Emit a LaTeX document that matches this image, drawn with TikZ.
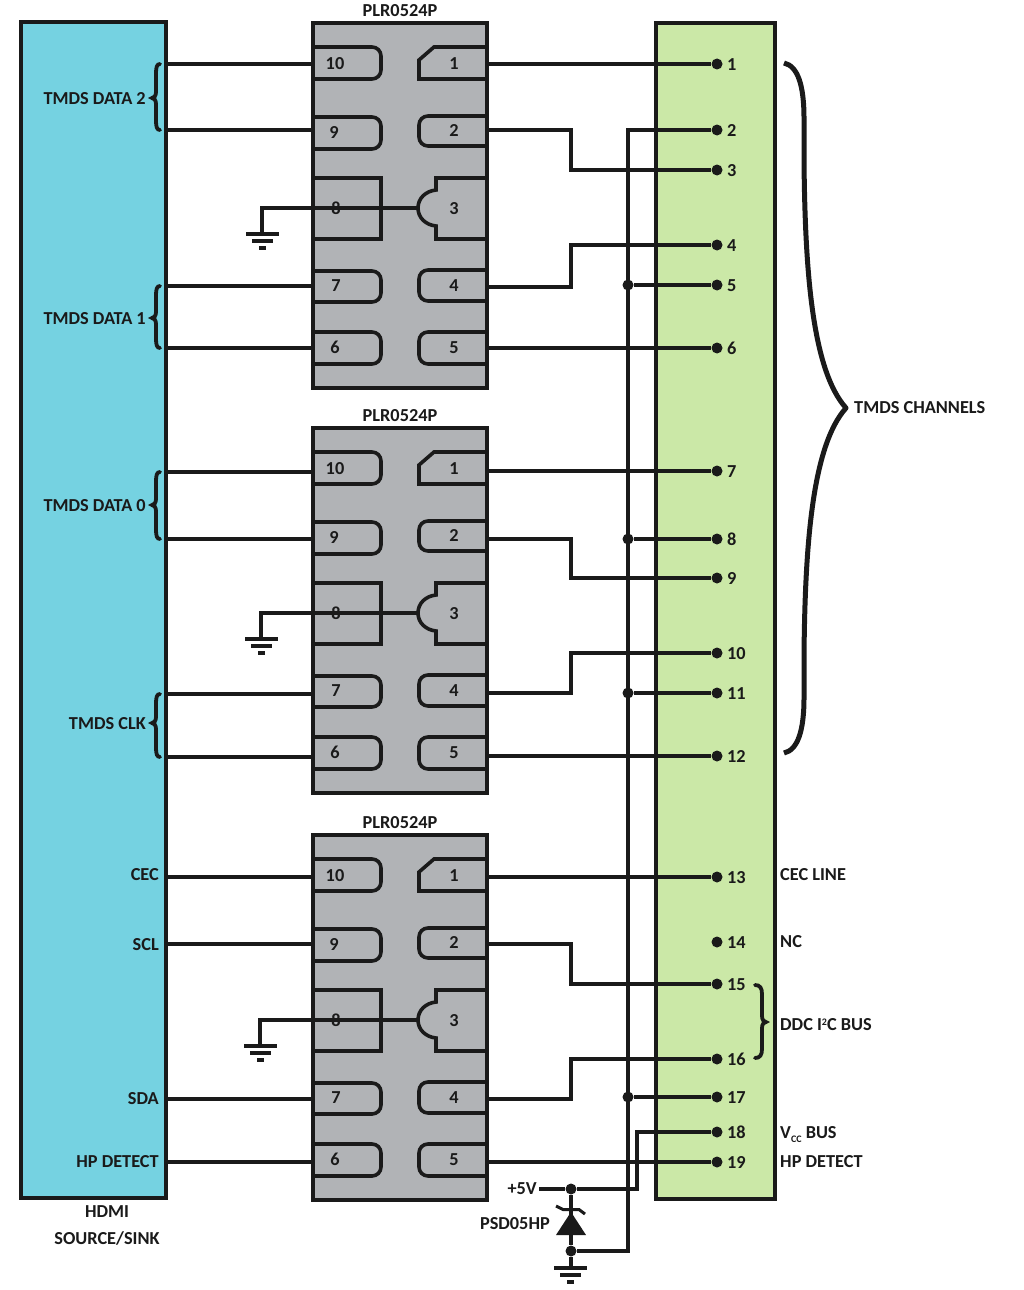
\documentclass[tikz,border=0pt]{standalone}
\usepackage{fontspec}
\setmainfont{Carlito}
\usetikzlibrary{calc}
\definecolor{cyanbox}{HTML}{75D2E1}
\definecolor{greenbox}{HTML}{CBE8A7}
\definecolor{chipgray}{HTML}{B1B3B6}
\definecolor{ink}{HTML}{1A1A1A}
\tikzset{
  wire/.style={draw=ink,line width=3.4pt},
  padline/.style={draw=ink,line width=3.6pt,line join=miter},
  roundpad/.style={padline,rounded corners=9pt},
  boxline/.style={draw=ink,line width=3.8pt},
  bracel/.style={draw=ink,line width=3.8pt,line cap=round},
  dotn/.style={circle,fill=ink,inner sep=0pt,minimum size=11pt},
  lab/.style={inner sep=0pt,text height=13pt,text depth=0pt,text=ink,font=\fontsize{18.3}{20}\selectfont\bfseries},
  labl/.style={lab,anchor=west},
  labr/.style={lab,anchor=east},
  gndbar/.style={draw=ink,line width=3.6pt},
}
\newcommand{\chipdraw}[3]{%
  \begin{scope}[yshift=-#2pt]
    \node[lab] (#1name) at (400,10) {PLR0524P};
    \path[fill=chipgray] (313,23) rectangle (487,388);
    \draw[roundpad] (313,47) -- (381,47) -- (381,79) -- (313,79);
    \draw[roundpad] (313,117) -- (381,117) -- (381,149) -- (313,149);
    \draw[roundpad] (313,271) -- (381,271) -- (381,302) -- (313,302);
    \draw[roundpad] (313,332) -- (381,332) -- (381,364) -- (313,364);
    \draw[padline] (313,178) -- (381,178) -- (381,239) -- (313,239);
    \draw[padline] (487,47) -- (434,47) -- (419,60) -- (419,79) -- (487,79);
    \draw[roundpad] (487,116) -- (419,116) -- (419,146) -- (487,146);
    \draw[roundpad] (487,270) -- (419,270) -- (419,301) -- (487,301);
    \draw[roundpad] (487,332) -- (419,332) -- (419,364) -- (487,364);
    \draw[padline] (487,178) -- (436,178) -- (436,190) .. controls (426,191) and (418,198) .. (418,208) .. controls (418,218) and (426,225) .. (436,226) -- (436,239) -- (487,239);
    \draw[boxline] (313,23) rectangle (487,388);
    \node[lab] (#1n10) at (335,63) {10};
    \node[lab] (#1n1) at (454,63) {1};
    \node[lab] (#1n9) at (334,132) {9};
    \node[lab] (#1n2) at (454,130) {2};
    \node[lab] (#1n8) at (336,208) {8};
    \node[lab] (#1n3) at (454,208) {3};
    \node[lab] (#1n7) at (336,285) {7};
    \node[lab] (#1n4) at (454,285) {4};
    \node[lab] (#1n6) at (335,347) {6};
    \node[lab] (#1n5) at (454,347) {5};
    \coordinate (#1g) at (#3,208);
    \coordinate (#1gb) at (#3,234);
    \coordinate (#1in) at (418,208);
    \draw[wire] (#1in) -- (#1g) -- (#1gb);
    \draw[gndbar] ($(#1gb)+(-16,0)$) -- ($(#1gb)+(17,0)$);
    \draw[gndbar] ($(#1gb)+(-10,7)$) -- ($(#1gb)+(11,7)$);
    \draw[gndbar] ($(#1gb)+(-3,14)$) -- ($(#1gb)+(4,14)$);
  \end{scope}%
}
\newcommand{\smallbrace}[3]{% top/mid/bottom, opening right
  \draw[bracel] (160,#1) .. controls (157,#1) and (156,{#1+3}) .. (156,{#1+9}) -- (156,{#2-6}) .. controls (156,{#2-2}) and (154,{#2}) .. (152,#2) .. controls (154,#2) and (156,{#2+2}) .. (156,{#2+6}) -- (156,{#3-9}) .. controls (156,{#3-3}) and (157,#3) .. (160,#3);
}
\begin{document}
\begin{tikzpicture}[x=1pt,y=-1pt]
\useasboundingbox (0,0) rectangle (1024,1290);
\path[fill=white] (0,0) rectangle (1024,1290);
% end boxes
\node[boxline,fill=cyanbox,minimum width=145pt,minimum height=1176pt,inner sep=0pt] (src) at (93.5,610) {};
\node[boxline,fill=greenbox,minimum width=119pt,minimum height=1176pt,inner sep=0pt] (conn) at (715.5,611) {};
% chips
\chipdraw{a}{0}{262}
\chipdraw{b}{405}{261}
\chipdraw{c}{812}{260}
% terminals
\foreach \n/\y in {1/64,2/130,3/170,4/245,5/285,6/348,7/471,8/539,9/578,10/653,11/693,12/756,13/877,14/942,15/984,16/1059,17/1097,18/1132,19/1162}{
  \node[dotn] (t\n) at (717,\y) {};
  \node[labl] (tl\n) at (727,\y) {\n};
}
% left ends and chip pins
\foreach \nm/\y in {a10/64,a9/130,a7/286,a6/348,b10/472,b9/539,b7/694,b6/757,c10/877,c9/944,c7/1099,c6/1162}{
  \coordinate (L\nm) at (166,\y);
  \coordinate (P\nm) at (313,\y);
  \draw[wire] (L\nm) -- (P\nm);
}
\foreach \nm/\y in {a1/64,a2/130,a4/287,a5/348,b1/471,b2/539,b4/693,b5/756,c1/877,c2/944,c4/1099,c5/1162}{
  \coordinate (P\nm) at (487,\y);
}
\foreach \n/\y in {3/170,4/245,9/578,10/653,15/984,16/1059}{
  \coordinate (k\n) at (571,\y);
}
% direct wires
\draw[wire] (Pa1) -- (t1);
\draw[wire] (Pa5) -- (t6);
\draw[wire] (Pb1) -- (t7);
\draw[wire] (Pb5) -- (t12);
\draw[wire] (Pc1) -- (t13);
\draw[wire] (Pc5) -- (t19);
% jogged wires
\draw[wire] (Pa2) -| (k3) -- (t3);
\draw[wire] (Pa4) -| (k4) -- (t4);
\draw[wire] (Pb2) -| (k9) -- (t9);
\draw[wire] (Pb4) -| (k10) -- (t10);
\draw[wire] (Pc2) -| (k15) -- (t15);
\draw[wire] (Pc4) -| (k16) -- (t16);
% ground bus
\node[dotn] (z1) at (571,1189) {};
\node[dotn] (z2) at (571,1251) {};
\coordinate (busb) at (628,1251);
\draw[wire] (t2) -| (busb) -- (z2);
\foreach \n/\y in {5/285,8/539,11/693,17/1097}{
  \node[dotn] (j\n) at (628,\y) {};
  \draw[wire] (j\n) -- (t\n);
}
% +5V rail
\node[labr] (v5) at (537,1188) {+5V};
\coordinate (vc) at (637,1132);
\coordinate (v5e) at (539,1189);
\draw[wire] (v5e) -- (z1) -| (vc) -- (t18);
% suppressor
\coordinate (zg) at (571,1268);
\draw[wire] (z1) -- (z2) -- (zg);
\path[fill=ink] (571,1212) -- (586,1235) -- (556,1235) -- cycle;
\draw[draw=ink,line width=3pt] (556,1206) -- (563,1209.5) -- (579,1209.5) -- (585,1214);
\draw[gndbar] (554,1268) -- (587,1268);
\draw[gndbar] (560,1275) -- (581,1275);
\draw[gndbar] (567,1282) -- (574,1282);
\node[labr] (psd) at (550,1223) {PSD05HP};
% braces
\smallbrace{64}{98}{130}
\smallbrace{286}{318}{348}
\smallbrace{472}{505}{539}
\smallbrace{694}{723}{757}
\draw[draw=ink,line width=5pt,line join=round] (784,63) .. controls (798,66) and (804,86) .. (804,118) -- (804,160) .. controls (805,270) and (812,370) .. (846,408) .. controls (812,446) and (805,546) .. (804,656) -- (804,698) .. controls (804,730) and (798,750) .. (784,753);
\draw[bracel,line width=3.8pt] (755,985) .. controls (760,985) and (762,988) .. (762,994) -- (762,1016) .. controls (762,1020) and (764,1022) .. (766,1022) .. controls (764,1022) and (762,1024) .. (762,1028) -- (762,1049) .. controls (762,1055) and (760,1058) .. (755,1058);
% labels left
\node[labr] (d2) at (146,98) {TMDS DATA 2};
\node[labr] (d1) at (146,318) {TMDS DATA 1};
\node[labr] (d0) at (146,505) {TMDS DATA 0};
\node[labr] (dc) at (146,723) {TMDS CLK};
\node[labr] (cec) at (159,874) {CEC};
\node[labr] (scl) at (159,944) {SCL};
\node[labr] (sda) at (159,1098) {SDA};
\node[labr] (hp) at (159,1161) {HP DETECT};
\node[lab] (hd1) at (107,1211) {HDMI};
\node[lab] (hd2) at (107,1238) {SOURCE/SINK};
% labels right
\node[labl] (tc) at (854,407) {TMDS CHANNELS};
\node[labl] (cl) at (780,874) {CEC LINE};
\node[labl] (nc) at (780,941) {NC};
\node[labl] (ddc) at (780,1024) {DDC I\raisebox{5pt}{\fontsize{10}{10}\selectfont 2}C BUS};
\node[labl] (vb) at (780,1132) {V\raisebox{-3.5pt}{\fontsize{10}{10}\selectfont CC} BUS};
\node[labl] (hpd) at (780,1161) {HP DETECT};
\end{tikzpicture}
\end{document}
